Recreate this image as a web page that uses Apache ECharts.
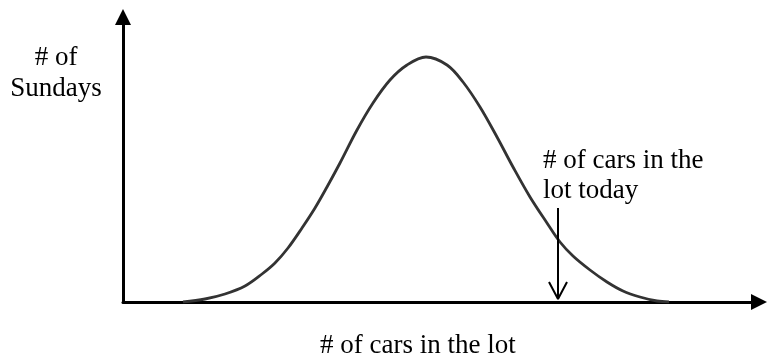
<!DOCTYPE html>
<html>
<head>
<meta charset="UTF-8">
<script src="https://cdn.jsdelivr.net/npm/echarts@6/dist/echarts.min.js"></script>
<title>Sunday cars</title>
<style type="text/css">
body{
	padding:0;
	margin:0;
	background:#fff;
}
#chart{
	width:768px;
	height:360px;
}
</style>
</head>
<body>
<div id="chart"></div>
<script type="text/javascript">
// curve: x = cars (px from the y axis), y = # of Sundays
var curveX = [60, 82, 102, 122, 139, 152, 165, 179, 192, 204, 217, 234, 250, 267, 284, 303,
	324, 340, 357, 374, 390, 407, 424, 437, 450, 467, 484, 500, 517, 534, 546];
var curveY = [0, 3, 8, 16, 28, 39, 54, 74, 94, 115, 139, 172, 199, 222, 237, 245,
	237, 220, 195, 165, 135, 105, 79, 60, 46, 32, 20, 11, 5, 1, 0];
// "today" marker
var todayX = 435;
var todayTop = 94;
var todayTip = 3;
var xMax = 636;
var yMax = 285;

var labelFont = '27px "Liberation Serif"';

var curve = [];
for (var i = 0; i < curveX.length; i++) {
	curve.push([curveX[i], curveY[i]]);
}

var myChart = echarts.init(document.getElementById('chart'));

var axisLine = {
	show: true,
	symbol: ['none', 'triangle'],
	symbolSize: [16, 16],
	lineStyle: { color: '#000', width: 3 }
};

option = {
	animation: false,
	grid: { left: 123, right: 9, top: 17, bottom: 58 },
	xAxis: {
		type: 'value', min: 0, max: xMax,
		axisLine: axisLine,
		axisTick: { show: false }, axisLabel: { show: false }, splitLine: { show: false }
	},
	yAxis: {
		type: 'value', min: 0, max: yMax,
		axisLine: axisLine,
		axisTick: { show: false }, axisLabel: { show: false }, splitLine: { show: false }
	},
	series: [
		{
			type: 'line',
			data: curve,
			smooth: 0.35,
			showSymbol: false,
			lineStyle: { color: '#333', width: 2.8 }
		},
		{
			type: 'line',
			data: [[todayX, todayTop], [todayX, todayTip]],
			showSymbol: false,
			lineStyle: { color: '#000', width: 2 }
		},
		{
			type: 'line',
			data: [[todayX - 9, todayTip + 17], [todayX, todayTip], [todayX + 9, todayTip + 17]],
			showSymbol: false,
			lineStyle: { color: '#000', width: 2 }
		}
	],
	graphic: [
		{
			type: 'text', x: 56, y: 42,
			style: { text: '# of\nSundays', font: labelFont, lineHeight: 31, fill: '#000',
				align: 'center', verticalAlign: 'top' }
		},
		{
			type: 'text', x: 543, y: 146,
			style: { text: '# of cars in the\nlot today', font: labelFont, lineHeight: 30, fill: '#000',
				align: 'left', verticalAlign: 'top' }
		},
		{
			type: 'text', x: 320, y: 331,
			style: { text: '# of cars in the lot', font: labelFont, lineHeight: 30, fill: '#000',
				align: 'left', verticalAlign: 'top' }
		}
	]
};

myChart.setOption(option);
</script>
</body>
</html>
